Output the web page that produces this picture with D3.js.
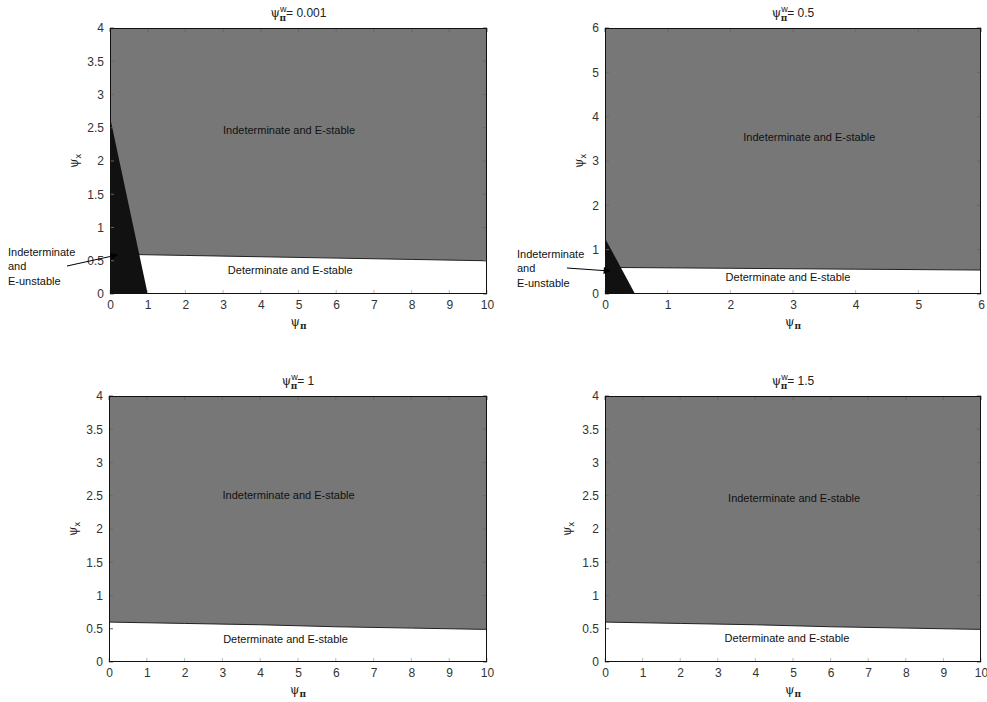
<!DOCTYPE html>
<html><head><meta charset="utf-8">
<script src="https://cdn.jsdelivr.net/npm/d3@7"></script>
<style>body{margin:0;background:#fff}svg{display:block}</style>
</head><body>
<svg id="c" width="987" height="702"></svg>
<script>
// ---- data ----
const panelTitles = ["0.001", "0.5", "1", "1.5"];
const xMaxes = [10, 6, 10, 10];
const yMaxes = [4, 6, 4, 4];
const xTickVals = [[0,1,2,3,4,5,6,7,8,9,10],[0,1,2,3,4,5,6],[0,1,2,3,4,5,6,7,8,9,10],[0,1,2,3,4,5,6,7,8,9,10]];
const yTickVals = [[0,0.5,1,1.5,2,2.5,3,3.5,4],[0,1,2,3,4,5,6],[0,0.5,1,1.5,2,2.5,3,3.5,4],[0,0.5,1,1.5,2,2.5,3,3.5,4]];
// boundary between determinate (below) and indeterminate (above)
const boundaryX = [[0,2,4,6,8,10],[0,2,4,6],[0,2,4,6,8,10],[0,2,4,6,8,10]];
const boundaryY = [[0.60,0.58,0.56,0.54,0.52,0.50],[0.60,0.58,0.56,0.54],[0.60,0.58,0.56,0.53,0.51,0.49],[0.60,0.58,0.56,0.53,0.51,0.49]];
// indeterminate & E-unstable region (black triangle)
const unstableX = [[0,1,0],[0,0.48,0],null,null];
const unstableY = [[2.66,0,0],[1.26,0,0],null,null];
// region labels (data coordinates)
const labelIndet = [[4.75,2.47],[3.26,3.54],[4.75,2.51],[5.03,2.47]];
const labelDet = [[4.78,0.36],[2.92,0.38],[4.67,0.35],[4.84,0.36]];
const textIndetStable = "Indeterminate and E-stable";
const textDetStable = "Determinate and E-stable";
const annotLines = ["Indeterminate", "and", "E-unstable"];

// ---- layout ----
const layout = [
  {left:110, top:28, w:377, h:266, ylabX:78, annot:{tx:8, ty:252, x1:67, y1:266, x2:117, y2:255}},
  {left:605, top:28, w:376, h:266, ylabX:583, annot:{tx:517, ty:254, x1:567, y1:268, x2:610, y2:271}},
  {left:109, top:396, w:378, h:266, ylabX:77, annot:null},
  {left:605, top:396, w:376, h:266, ylabX:571, annot:null}
];

const svg = d3.select("#c");
const defs = svg.append("defs");
defs.append("marker").attr("id","ah").attr("viewBox","0 0 10 10").attr("refX",9).attr("refY",5)
  .attr("markerWidth",9).attr("markerHeight",7).attr("orient","auto").attr("markerUnits","userSpaceOnUse")
  .append("path").attr("d","M0,0 L10,5 L0,10 z").attr("fill","#000");

const font = "Liberation Sans, Arial, sans-serif";
const gray = "#777777";

layout.forEach((L, i) => {
  const x = d3.scaleLinear().domain([0, xMaxes[i]]).range([L.left, L.left + L.w]);
  const y = d3.scaleLinear().domain([0, yMaxes[i]]).range([L.top + L.h, L.top]);
  const g = svg.append("g");
  const clipId = "clip" + i;
  defs.append("clipPath").attr("id", clipId).append("rect")
    .attr("x", L.left).attr("y", L.top).attr("width", L.w).attr("height", L.h);
  const pg = g.append("g").attr("clip-path", `url(#${clipId})`);

  // white background
  pg.append("rect").attr("x", L.left).attr("y", L.top).attr("width", L.w).attr("height", L.h).attr("fill", "#fff");

  // gray region above boundary
  const bpts = boundaryX[i].map((bx, k) => [bx, boundaryY[i][k]]);
  const grayPts = [[0, yMaxes[i]], ...bpts, [xMaxes[i], yMaxes[i]]];
  pg.append("path")
    .attr("d", d3.line().x(d => x(d[0])).y(d => y(d[1]))(grayPts) + "Z")
    .attr("fill", gray);
  pg.append("path")
    .attr("d", d3.line().x(d => x(d[0])).y(d => y(d[1]))(bpts))
    .attr("fill", "none").attr("stroke", "#222").attr("stroke-width", 1);

  // black region
  if (unstableX[i]) {
    const upts = unstableX[i].map((ux, k) => [ux, unstableY[i][k]]);
    pg.append("path")
      .attr("d", d3.line().x(d => x(d[0])).y(d => y(d[1]))(upts) + "Z")
      .attr("fill", "#111");
  }

  // ticks (inward, all sides)
  const tl = 4;
  const tickCol = "#bbb";
  xTickVals[i].forEach(v => {
    g.append("line").attr("x1", x(v)).attr("x2", x(v)).attr("y1", L.top + L.h).attr("y2", L.top + L.h - tl).attr("stroke", tickCol);
    g.append("line").attr("x1", x(v)).attr("x2", x(v)).attr("y1", L.top).attr("y2", L.top + tl).attr("stroke", "#666");
  });
  yTickVals[i].forEach(v => {
    g.append("line").attr("x1", L.left).attr("x2", L.left + tl).attr("y1", y(v)).attr("y2", y(v)).attr("stroke", "#666");
    g.append("line").attr("x1", L.left + L.w).attr("x2", L.left + L.w - tl).attr("y1", y(v)).attr("y2", y(v)).attr("stroke", "#666");
  });

  // box
  g.append("rect").attr("x", L.left + 0.5).attr("y", L.top + 0.5).attr("width", L.w - 1).attr("height", L.h - 1)
    .attr("fill", "none").attr("stroke", "#111").attr("stroke-width", 1);

  // tick labels
  const xAx = g.append("g").attr("transform", `translate(0,${L.top + L.h})`)
    .call(d3.axisBottom(x).tickValues(xTickVals[i]).tickSize(0).tickPadding(6).tickFormat(d3.format("")));
  xAx.select(".domain").remove();
  xAx.selectAll("text").attr("font-family", font).attr("font-size", 12).attr("fill", "#333");
  const yAx = g.append("g").attr("transform", `translate(${L.left},0)`)
    .call(d3.axisLeft(y).tickValues(yTickVals[i]).tickSize(0).tickPadding(6).tickFormat(d3.format("")));
  yAx.select(".domain").remove();
  yAx.selectAll("text").attr("font-family", font).attr("font-size", 12).attr("fill", "#333");

  // title
  const t = g.append("text").attr("x", L.left + L.w / 2).attr("y", L.top - 11)
    .attr("text-anchor", "middle").attr("font-family", font).attr("font-size", 12).attr("fill", "#222");
  t.append("tspan").attr("font-family", "DejaVu Serif, serif").text("ψ");
  t.append("tspan").attr("font-size", 9).attr("dy", -5).text("w");
  t.append("tspan").attr("font-size", 9).attr("font-weight", "bold").attr("dx", -7).attr("dy", 9).attr("font-family", "DejaVu Serif, serif").text("π");
  t.append("tspan").attr("dy", -4).text("= " + panelTitles[i]);

  // x label
  const xl = g.append("text").attr("x", L.left + L.w / 2).attr("y", L.top + L.h + 32)
    .attr("text-anchor", "middle").attr("font-family", "DejaVu Serif, serif").attr("font-size", 12).attr("fill", "#222");
  xl.append("tspan").text("ψ");
  xl.append("tspan").attr("font-size", 9).attr("font-weight", "bold").attr("dy", 3).text("π");

  // y label
  const yl = g.append("text").attr("transform", `translate(${L.ylabX},${L.top + L.h / 2}) rotate(-90)`)
    .attr("text-anchor", "middle").attr("font-family", "DejaVu Serif, serif").attr("font-size", 12).attr("fill", "#222");
  yl.append("tspan").text("ψ");
  yl.append("tspan").attr("font-size", 9).attr("font-family", font).attr("dy", 3).text("x");

  // region labels
  g.append("text").attr("x", x(labelIndet[i][0])).attr("y", y(labelIndet[i][1])).attr("dy", "0.35em")
    .attr("text-anchor", "middle").attr("font-family", font).attr("font-size", 11).attr("fill", "#111").text(textIndetStable);
  g.append("text").attr("x", x(labelDet[i][0])).attr("y", y(labelDet[i][1])).attr("dy", "0.35em")
    .attr("text-anchor", "middle").attr("font-family", font).attr("font-size", 11).attr("fill", "#111").text(textDetStable);

  // annotation
  if (L.annot) {
    const A = L.annot;
    annotLines.forEach((s, k) => {
      g.append("text").attr("x", A.tx).attr("y", A.ty + k * 14.5).attr("dy", "0.35em")
        .attr("font-family", font).attr("font-size", 11).attr("fill", "#111").text(s);
    });
    g.append("line").attr("x1", A.x1).attr("y1", A.y1).attr("x2", A.x2).attr("y2", A.y2)
      .attr("stroke", "#000").attr("stroke-width", 1).attr("marker-end", "url(#ah)");
  }
});
</script>
</body></html>
